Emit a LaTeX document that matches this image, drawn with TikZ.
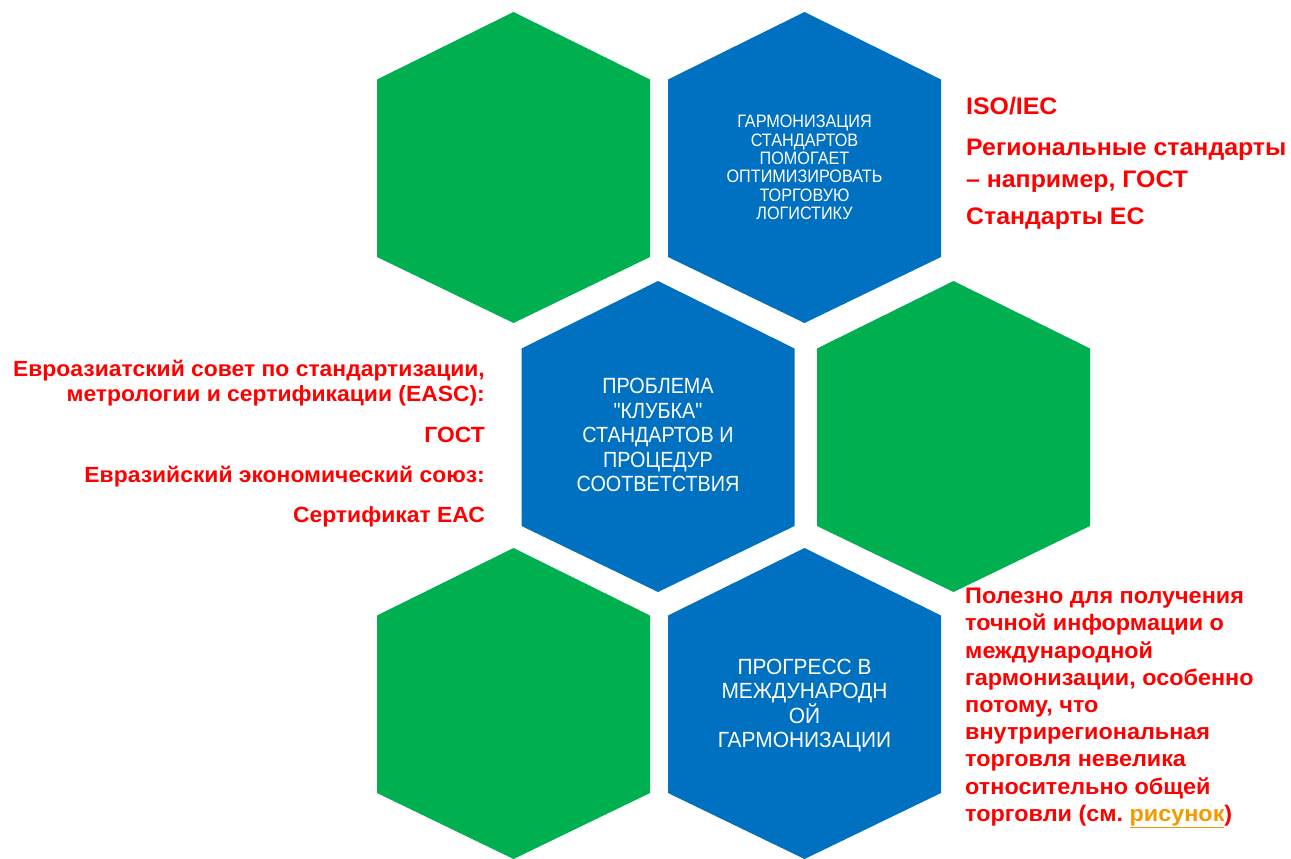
\documentclass[tikz,border=0pt]{standalone}
\usepackage{fontspec}
\setmainfont{Liberation Sans}
\newfontfamily\hexfont[FakeStretch=0.9]{Liberation Sans}
\newfontfamily\hexfontwide[FakeStretch=0.95]{Liberation Sans}
\newfontfamily\notefont[FakeStretch=1.04]{Liberation Sans}
\definecolor{hexgreen}{RGB}{0,176,80}
\definecolor{hexblue}{RGB}{0,112,192}
\definecolor{notered}{RGB}{255,0,0}
\definecolor{linkorange}{RGB}{240,155,0}
\newcommand\hexpath[3]{% cx, top y, colour
  \fill[#3] (#1,#2) -- ++(136.5,67.5) -- ++(0,177.5) -- ++(-136.5,66)
    -- ++(-136.5,-66) -- ++(0,-177.5) -- cycle;}
\begin{document}
\begin{tikzpicture}[x=1pt,y=-1pt,
  hextext/.style={text=white, align=center, inner sep=0pt,
    font=\hexfont\fontsize{22}{24.5}\selectfont},
  smallhextext/.style={hextext, font=\hexfont\fontsize{18}{18.4}\selectfont},
  widehextext/.style={hextext, font=\hexfontwide\fontsize{22}{24.5}\selectfont},
  note/.style={text=notered, inner sep=0pt,
    font=\notefont\bfseries\fontsize{22}{25}\selectfont},
  bignote/.style={note, font=\notefont\bfseries\fontsize{23.9}{32}\selectfont}]
\useasboundingbox (0,0) rectangle (1291,859);
% hexagons
\hexpath{513.5}{12}{hexgreen}
\hexpath{804.5}{12}{hexblue}
\hexpath{658}{281}{hexblue}
\hexpath{953.5}{281}{hexgreen}
\hexpath{513.5}{548}{hexgreen}
\hexpath{804.5}{548}{hexblue}
% hexagon texts
\node[smallhextext] (h2) at (804.5,167.5) {ГАРМОНИЗАЦИЯ\\СТАНДАРТОВ\\ПОМОГАЕТ\\ОПТИМИЗИРОВАТЬ\\ТОРГОВУЮ\\ЛОГИСТИКУ};
\node[hextext] (h3) at (658,435) {ПРОБЛЕМА\\"КЛУБКА"\\СТАНДАРТОВ И\\ПРОЦЕДУР\\СООТВЕТСТВИЯ};
\node[widehextext] (h6) at (804.5,705.5) {ПРОГРЕСС В\\МЕЖДУНАРОДН\\ОЙ\\ГАРМОНИЗАЦИИ};
% top-right notes
\node[bignote, anchor=base west] (iso) at (966,114) {ISO/IEC};
\node[bignote, anchor=north west, align=left] (reg) at (966,138.5) {Региональные стандарты\\– например, ГОСТ};
\node[bignote, anchor=base west] (ec) at (966,224) {Стандарты ЕС};
% left notes
\node[note, anchor=north east, align=right] (easc) at (485,360) {Евроазиатский совет по стандартизации,\\метрологии и сертификации (EASC):};
\node[note, anchor=base east] (gost) at (485,442) {ГОСТ};
\node[note, anchor=base east] (eaeu) at (485,482) {Евразийский экономический союз:};
\node[note, anchor=base east] (eac) at (485,522) {Сертификат ЕАС};
% bottom-right note
\node[note, anchor=north west, align=left, font=\notefont\bfseries\fontsize{22.5}{27.2}\selectfont] (useful) at (965,588)
  {Полезно для получения\\точной информации о\\международной\\гармонизации, особенно\\потому, что\\внутрирегиональная\\торговля невелика\\относительно общей\\торговли (см.\ \textcolor{linkorange}{\underline{рисунок}})};
\end{tikzpicture}
\end{document}
